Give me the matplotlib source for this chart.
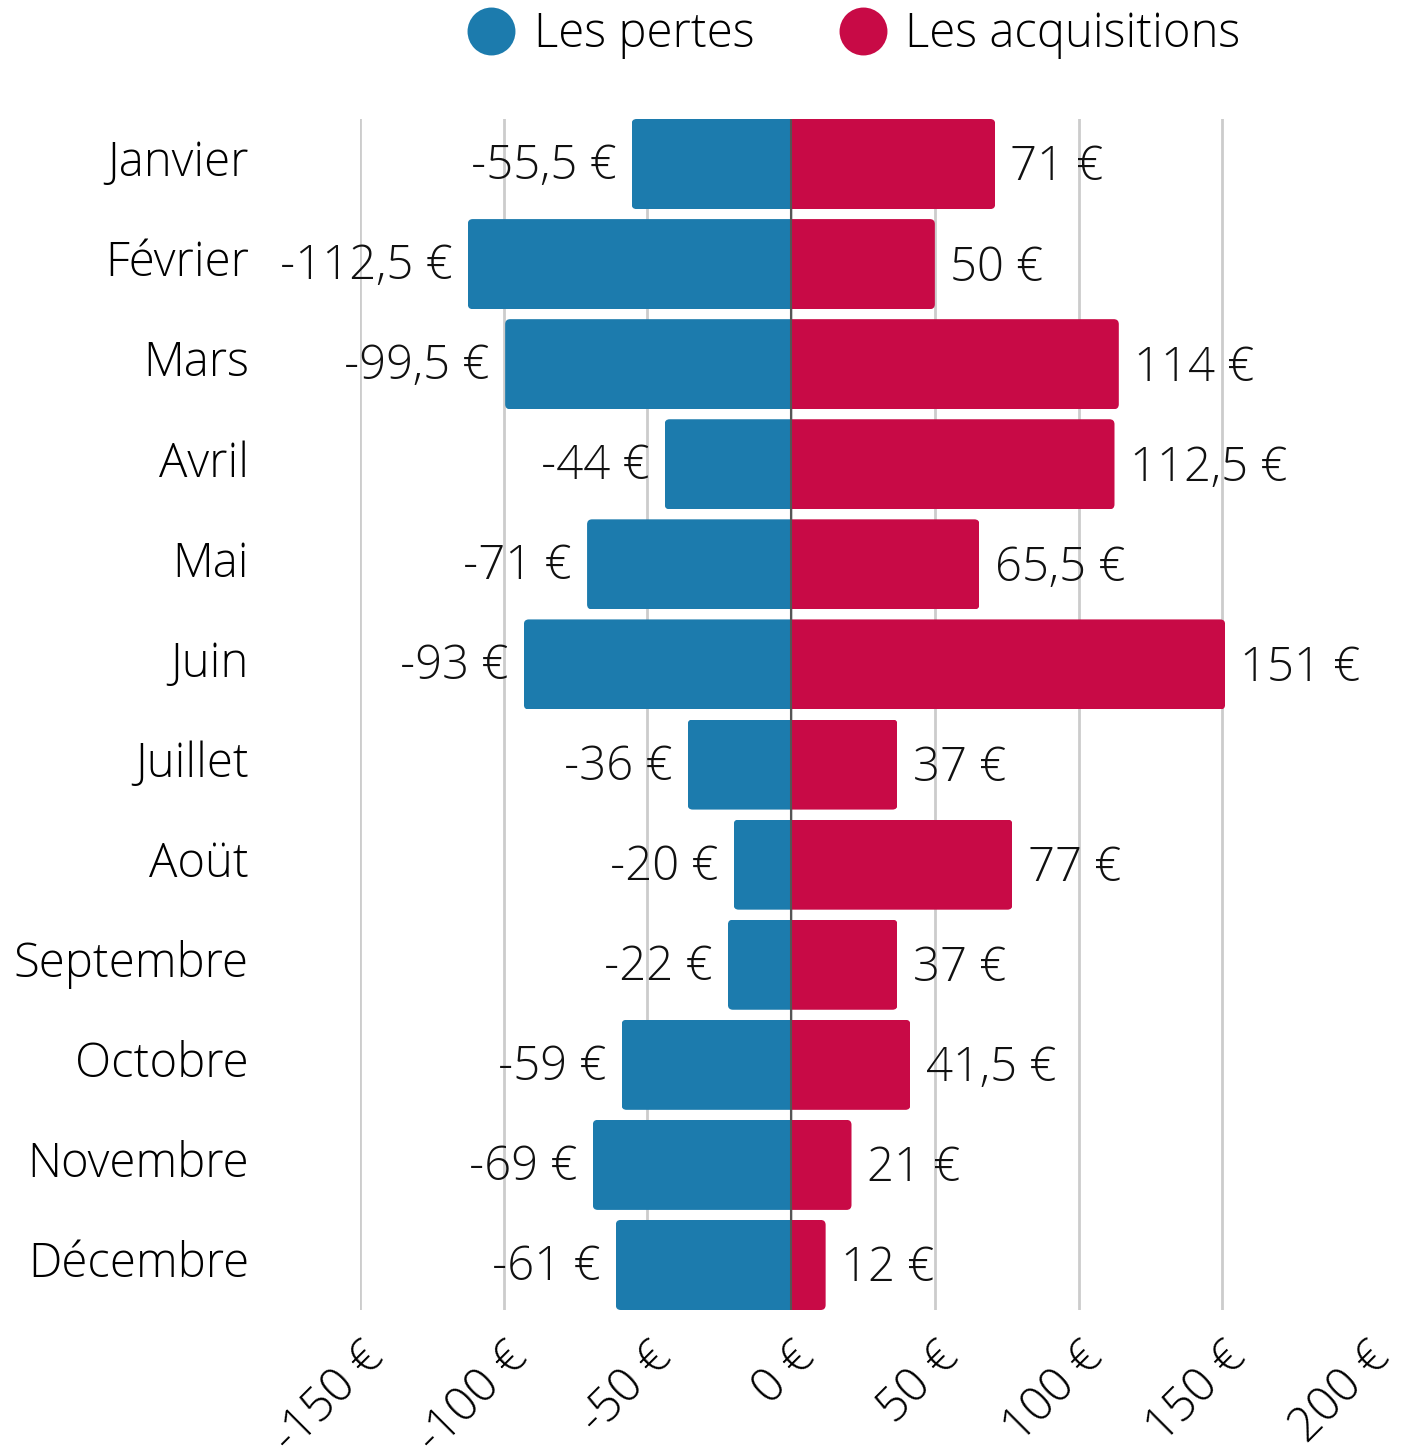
import matplotlib
matplotlib.use("Agg")
import matplotlib.pyplot as plt
from matplotlib.patches import FancyBboxPatch
from matplotlib.lines import Line2D

months = ["Janvier", "Février", "Mars", "Avril", "Mai", "Juin", "Juillet",
          "Aoüt", "Septembre", "Octobre", "Novembre", "Décembre"]
pertes = [-55.5, -112.5, -99.5, -44, -71, -93, -36, -20, -22, -59, -69, -61]
acquisitions = [71, 50, 114, 112.5, 65.5, 151, 37, 77, 37, 41.5, 21, 12]
xticks = [-150, -100, -50, 0, 50, 100, 150, 200]
series_names = ["Les pertes", "Les acquisitions"]

BLUE = "#1c7bad"
RED = "#c80a46"
FS = 34

plt.rcParams['font.family'] = ['Open Sans', 'DejaVu Sans']
plt.rcParams['font.weight'] = 'light'

def fmt(v):
    s = f"{v:g}".replace('.', ',')
    return s + " €"

fig = plt.figure(figsize=(14.05, 14.47), dpi=100)
ax = fig.add_axes([360/1405, 1 - 1310/1447, (1366-360)/1405, (1310-119)/1447])

y = list(range(len(months)))
h = 0.9
b1 = ax.barh(y, pertes, height=h, color=BLUE, zorder=2)
b2 = ax.barh(y, acquisitions, height=h, color=RED, zorder=2)

# rounded outer corners: rounded box extended past zero, clipped by the bar itself
r = 1.74
aspect = 0.05 / r
ext = 5.0
for bars, col in ((b1, BLUE), (b2, RED)):
    for p in bars:
        x0, y0 = p.get_x(), p.get_y()
        w, hh = p.get_width(), p.get_height()
        if w < 0:
            xa, xb = x0 + w, x0 + ext
        else:
            xa, xb = x0 - ext, x0 + w
        fb = FancyBboxPatch((xa, y0), xb - xa, hh,
                            boxstyle=f"round,pad=0,rounding_size={r}",
                            mutation_aspect=aspect, facecolor=col,
                            edgecolor='none', zorder=2)
        ax.add_patch(fb)
        fb.set_clip_path(p)
        p.set_visible(False)

for yi, v in zip(y, pertes):
    ax.annotate(fmt(v), (v, yi), xytext=(-11, -2), textcoords='offset points',
                ha='right', va='center', fontsize=FS, color='#111111')
for yi, v in zip(y, acquisitions):
    ax.annotate(fmt(v), (v, yi), xytext=(11, -3), textcoords='offset points',
                ha='left', va='center', fontsize=FS, color='#111111')

ax.axvline(0, color='#555555', linewidth=1.5, zorder=3)
for t in xticks[:-1]:
    ax.axvline(t, color='#cccccc', linewidth=2, zorder=1)

ax.set_xlim(-150, 200)
ax.set_ylim(len(months) - 1 + 0.45, -0.45)
ax.set_yticks(y)
ax.set_yticklabels(months, fontsize=FS)
for lbl in ax.get_yticklabels():
    lbl.set_va('center')
ax.set_xticks(xticks)
ax.set_xticklabels([f"{t} €" for t in xticks], fontsize=FS, rotation=45,
                   ha='right', va='top', rotation_mode='anchor')
ax.tick_params(axis='y', length=0, pad=80)
ax.tick_params(axis='x', length=0, pad=17)
for s in ax.spines.values():
    s.set_visible(False)

handles = [Line2D([], [], marker='o', linestyle='none', markersize=34.5,
                  markerfacecolor=c, markeredgecolor='none') for c in (BLUE, RED)]
fig.legend(handles, series_names, loc='upper center', bbox_to_anchor=(0.607, 1.022),
           ncol=2, frameon=False, fontsize=FS, handlelength=1.1,
           handletextpad=0.35, columnspacing=1.75)

fig.savefig("out.png", dpi=100)
